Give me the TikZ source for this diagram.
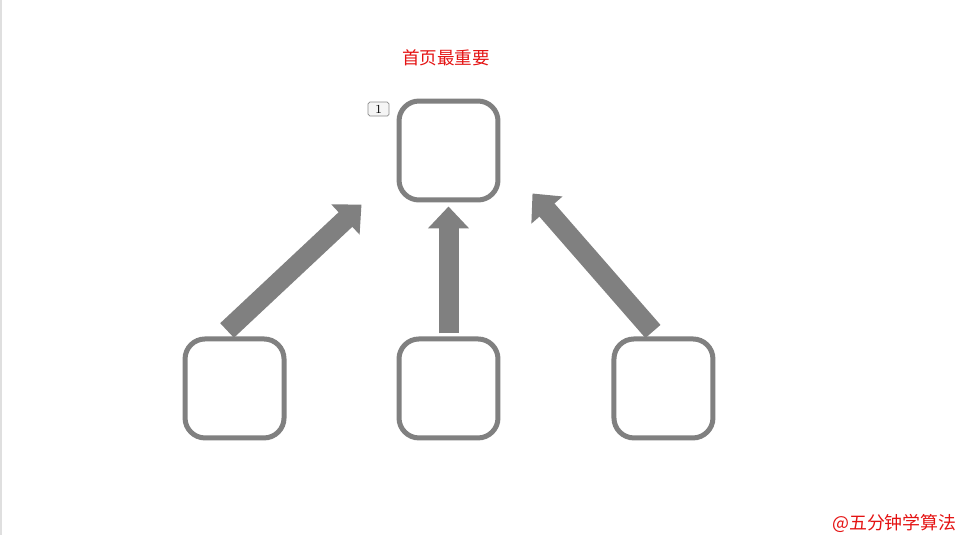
\documentclass[tikz,border=0pt]{standalone}
\usepackage{fontspec}
\newfontfamily\cjk{Noto Sans CJK SC}
\usetikzlibrary{positioning,arrows.meta}
\definecolor{titlered}{RGB}{228,18,18}

\begin{document}
\begin{tikzpicture}[x=0.02cm,y=-0.02cm,
  box/.style={rectangle, rounded corners=0.4cm, draw=gray, line width=0.1cm, minimum size=1.98cm},
  arrow/.style={draw=gray, line width=0.4cm, -{Triangle[width=0.8cm,length=0.44cm]}}]
\useasboundingbox (0,0) rectangle (958,535);
\draw[gray!25, line width=0.04cm] (1,0) -- (1,535);
\node[box](top) at (448.5,150.5) {};
\node[box, below=2.68cm of top](mid) {};
\node[box, below left=2.68cm and 2.2cm of top](left) {};
\node[box, below right=2.68cm and 2.22cm of top](right) {};
\node[text=titlered, font=\cjk\fontsize{10pt}{12pt}\selectfont](title) at (446,58) {首页最重要};
\node[draw=gray!90, fill=gray!8, rounded corners=1pt, minimum width=0.42cm, minimum height=0.28cm, inner sep=0pt, font=\fontsize{7pt}{8pt}\selectfont](num) at ([shift={(-18,10.5)}]top.north west) {1};
\node[anchor=east, inner sep=0pt, text=titlered, font=\cjk\fontsize{10.2pt}{12pt}\selectfont](mark) at (957,523) {@五分钟学算法};
% arrow ends
\coordinate (lt) at ([shift={(-7.5,-6)}]left.north);
\coordinate (lh) at ([shift={(-35,2)}]top.south west);
\coordinate (mt) at ([shift={(0,-3)}]mid.north);
\coordinate (mh) at ([shift={(0,4)}]top.south);
\coordinate (rt) at ([shift={(-10.5,-5)}]right.north);
\coordinate (rh) at ([shift={(32,-9)}]top.south east);
\draw[arrow] (lt) -- (lh);
\draw[arrow] (mt) -- (mh);
\draw[arrow] (rt) -- (rh);
\end{tikzpicture}
\end{document}
